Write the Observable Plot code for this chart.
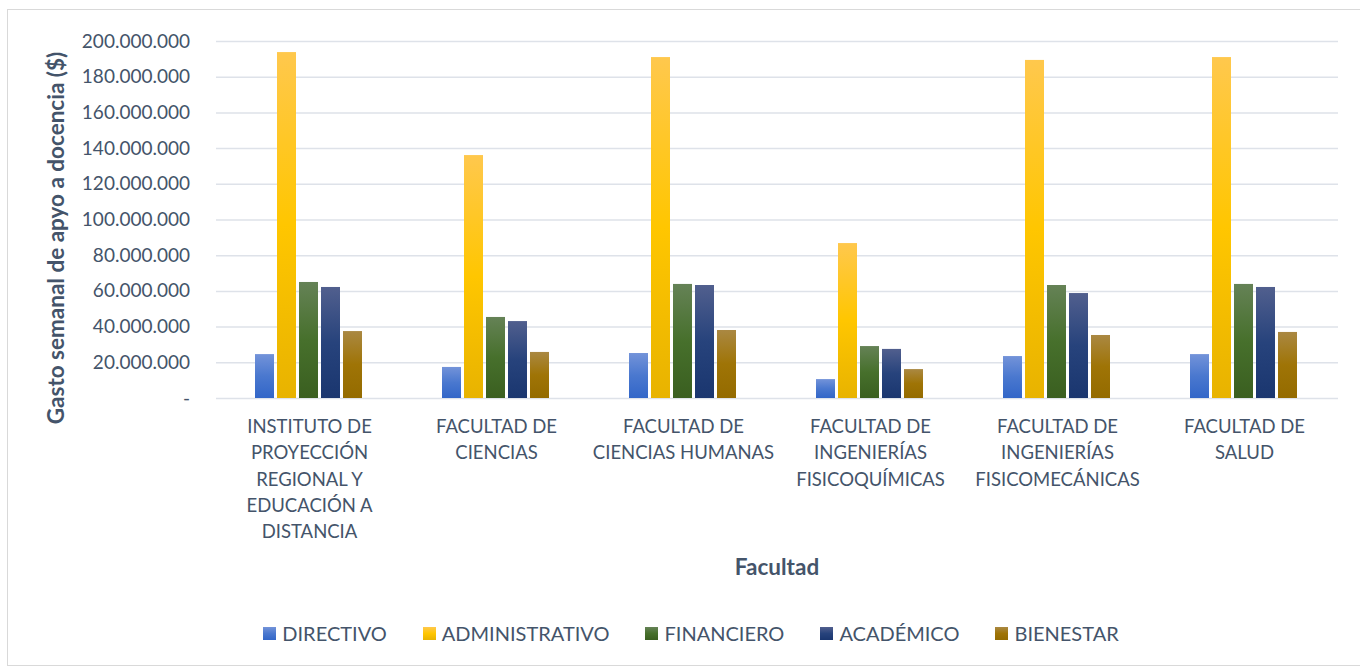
<!DOCTYPE html>
<html>
<head>
<meta charset="utf-8">
<script src="https://cdn.jsdelivr.net/npm/d3@7"></script>
<script src="https://cdn.jsdelivr.net/npm/@observablehq/plot@0.6"></script>
<style>
  html, body { margin: 0; padding: 0; background: #ffffff; }
  #wrap { position: relative; width: 1360px; height: 669px; overflow: hidden; font-family: Lato, sans-serif; }
  #frame { position: absolute; left: 7px; top: 9px; width: 1360px; height: 657px; border: 1px solid #D9D9D9; box-sizing: border-box; pointer-events: none; }
  #grid, #chart { position: absolute; left: 0; top: 0; }
  #legend { position: absolute; left: 0; top: 621px; width: 1360px; display: flex; justify-content: center; padding-left: 22px; box-sizing: border-box; font-size: 20px; color: #44546A; }
  .item { display: flex; align-items: center; margin: 0 18px; }
  .sw { width: 13px; height: 13px; margin-right: 6px; }
</style>
</head>
<body>
<div id="wrap">
  <div id="frame"></div>
  <div id="grid"></div>
  <div id="chart"></div>
  <div id="legend"></div>
</div>
<script>
const faculties = [
  "INSTITUTO DE\nPROYECCIÓN\nREGIONAL Y\nEDUCACIÓN A\nDISTANCIA",
  "FACULTAD DE\nCIENCIAS",
  "FACULTAD DE\nCIENCIAS HUMANAS",
  "FACULTAD DE\nINGENIERÍAS\nFISICOQUÍMICAS",
  "FACULTAD DE\nINGENIERÍAS\nFISICOMECÁNICAS",
  "FACULTAD DE\nSALUD"
];
const series = ["DIRECTIVO", "ADMINISTRATIVO", "FINANCIERO", "ACADÉMICO", "BIENESTAR"];
const directivo      = [24.6e6, 17.4e6, 25.2e6, 10.6e6, 23.5e6, 24.6e6];
const administrativo = [193.8e6, 136.1e6, 191.0e6, 86.8e6, 189.4e6, 191.0e6];
const financiero     = [65.0e6, 45.4e6, 63.9e6, 29.1e6, 63.3e6, 63.9e6];
const academico      = [62.2e6, 43.1e6, 63.3e6, 27.5e6, 58.8e6, 62.2e6];
const bienestar      = [37.5e6, 25.8e6, 38.1e6, 16.2e6, 35.3e6, 37.0e6];
const yTicks = [0, 20e6, 40e6, 60e6, 80e6, 100e6, 120e6, 140e6, 160e6, 180e6, 200e6];

const seriesValues = [directivo, administrativo, financiero, academico, bienestar];
const data = [];
faculties.forEach((f, i) => {
  series.forEach((s, j) => data.push({faculty: f, series: s, value: seriesValues[j][i]}));
});

// gradient stops (top, middle, bottom) per series
const grads = [
  ["#7393d9", "#4a78cf", "#3266c8"],
  ["#ffc84d", "#ffc600", "#e8b300"],
  ["#658256", "#47702c", "#3a5f20"],
  ["#515f8e", "#27437c", "#1a366f"],
  ["#aa8842", "#9f7406", "#946b00"]
];
const gradIds = series.map((s, i) => `url(#g${i})`);

const loc = d3.formatLocale({decimal: ",", thousands: ".", grouping: [3], currency: ["$", ""]});
const f = loc.format(",");
const fmt = v => v === 0 ? "-" : f(v);

const W = 1360, H = 605, ML = 216, MR = 22, MT = 41, MB = 207;

// background gridlines spanning the full plot width
const grid = Plot.plot({
  width: W, height: H, marginLeft: ML, marginRight: MR, marginTop: MT, marginBottom: MB,
  style: {background: "transparent"},
  y: {domain: [0, 200e6], axis: null},
  marks: [
    Plot.ruleY(yTicks, {stroke: "#DEE2E9", strokeWidth: 1.5})
  ]
});
document.getElementById("grid").appendChild(grid);

const chart = Plot.plot({
  width: W, height: H, marginLeft: ML, marginRight: MR, marginTop: MT, marginBottom: MB,
  style: {fontFamily: "Lato, sans-serif", color: "#44546A", background: "transparent", overflow: "visible"},
  fx: {domain: faculties, paddingInner: 0.401, paddingOuter: 0.2005},
  x: {domain: series, paddingInner: 0.13, paddingOuter: 0, axis: null},
  y: {domain: [0, 200e6]},
  color: {domain: series, range: gradIds},
  marks: [
    Plot.barY(data, {fx: "faculty", x: "series", y: "value", fill: "series"}),
    Plot.axisY(yTicks, {
      tickSize: 0, tickPadding: 63.5, tickFormat: fmt, fontSize: 19,
      label: "Gasto semanal de apyo a docencia ($)", labelAnchor: "center", labelArrow: "none", labelOffset: 205
    }),
    Plot.axisFx({
      anchor: "bottom", tickSize: 0, tickPadding: 16, fontSize: 18.5, lineHeight: 1.42,
      label: "Facultad", labelAnchor: "center", labelArrow: "none", labelOffset: 176
    })
  ]
});

// gradient defs
const ns = "http://www.w3.org/2000/svg";
const defs = document.createElementNS(ns, "defs");
grads.forEach((g, i) => {
  const lg = document.createElementNS(ns, "linearGradient");
  lg.setAttribute("id", `g${i}`);
  lg.setAttribute("x1", "0"); lg.setAttribute("y1", "0");
  lg.setAttribute("x2", "0"); lg.setAttribute("y2", "1");
  [[0, g[0]], [0.5, g[1]], [1, g[2]]].forEach(([o, c]) => {
    const st = document.createElementNS(ns, "stop");
    st.setAttribute("offset", o);
    st.setAttribute("stop-color", c);
    lg.appendChild(st);
  });
  defs.appendChild(lg);
});
chart.insertBefore(defs, chart.firstChild);

chart.querySelectorAll("[aria-label='y-axis label'], [aria-label='fx-axis label']").forEach(el => {
  el.setAttribute("font-weight", "bold");
  el.setAttribute("font-size", "22.5");
});
// nudge the y title down to sit where the original does
chart.querySelectorAll("[aria-label='y-axis label'] text").forEach(el => el.setAttribute("dx", "-18"));

document.getElementById("chart").appendChild(chart);

const legend = document.getElementById("legend");
series.forEach((s, i) => {
  const it = document.createElement("div");
  it.className = "item";
  const sw = document.createElement("div");
  sw.className = "sw";
  sw.style.background = `linear-gradient(${grads[i][0]}, ${grads[i][1]}, ${grads[i][2]})`;
  const tx = document.createElement("span");
  tx.textContent = s;
  it.appendChild(sw); it.appendChild(tx);
  legend.appendChild(it);
});
</script>
</body>
</html>
